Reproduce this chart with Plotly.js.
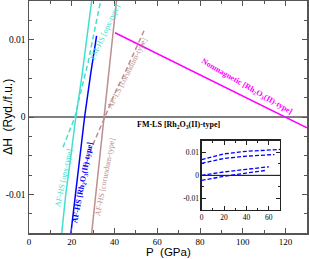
<!DOCTYPE html>
<html><head><meta charset="utf-8">
<script src="https://cdn.plot.ly/plotly-3.0.1.min.js"></script>
<style>html,body{margin:0;padding:0;background:#fff}#chart{width:309px;height:259px}</style>
</head><body><div id="chart"></div>
<script>
// Main panel data (P in GPa, dH in Ryd./f.u.)
var afHsOpxP = [15.3, 17.2, 19.6, 21.9, 24.6, 27.0, 29.3];
var afHsOpxH = [-0.015, -0.010, -0.005, 0.0, 0.005, 0.010, 0.015];
var fmHsOpxP = [15.9, 18.5, 21.5, 23.8, 27.6, 30.5, 33.5];
var fmHsOpxH = [-0.0039, -0.002, 0.0, 0.0028, 0.007, 0.011, 0.015];
var afHsRhP = [19.6, 22.8, 26.0, 28.8, 31.6];
var afHsRhH = [-0.015, -0.0075, 0.0, 0.0055, 0.0105];
var afHsCorP = [29.3, 32.2, 35.1, 38.0, 40.9];
var afHsCorH = [-0.015, -0.0075, 0.0, 0.0075, 0.015];
var afLsCorP = [26.0, 30.0, 35.5, 40.0, 45.0, 54.0];
var afLsCorH = [-0.0065, -0.0035, 0.0, 0.003, 0.0058, 0.0113];
var nmRhP = [40.2, 60, 80, 100, 120, 130];
var nmRhH = [0.0109, 0.0082, 0.0055, 0.0027, 0.0000, -0.0014];
var fmLsRhP = [0, 130];
var fmLsRhH = [0, 0];
// Inset data
var insA_P = [0, 20, 40, 70], insA_H = [0.0068, 0.0093, 0.0104, 0.0112];
var insB_P = [0, 20, 40, 65], insB_H = [0.0052, 0.0073, 0.0083, 0.0090];
var insC_P = [0, 20, 40, 60], insC_H = [0.0000, 0.0015, 0.0026, 0.0037];
var insD_P = [0, 20, 40, 58], insD_H = [-0.0022, -0.0004, 0.0010, 0.0022];
var insZ_P = [0, 70], insZ_H = [0, 0];
// Tick labels
var yTickVals = [-0.01, 0, 0.01];
var yTickText = ['-0.01', '0', '0.01'];
var xTickVals = [0, 20, 40, 60, 80, 100, 120];
var xTickText = ['0', '20', '40', '60', '80', '100', '120'];
var xInsTickVals = [0, 20, 40, 60];
var xInsTickText = ['0', '20', '40', '60'];

var CYAN = '#40e0d0', BLUE = '#0000ff', ROSY = '#bc8f8f', MAG = '#ff00ff';
function ln(x, y, color, dash, w, xa, ya) {
  return {x: x, y: y, type: 'scatter', mode: 'lines', line: {color: color, width: w || 1.5, dash: dash || 'solid'},
          xaxis: xa || 'x', yaxis: ya || 'y', hoverinfo: 'skip', showlegend: false};
}
var traces = [
  ln(fmLsRhP, fmLsRhH, '#000', 'solid', 1),
  ln(afHsOpxP, afHsOpxH, CYAN),
  ln(fmHsOpxP, fmHsOpxH, CYAN, '5px,3px'),
  ln(afHsRhP, afHsRhH, BLUE),
  ln(afHsCorP, afHsCorH, ROSY),
  ln(afLsCorP, afLsCorH, ROSY, '5px,3px'),
  ln(nmRhP, nmRhH, MAG),
  ln(insZ_P, insZ_H, '#000', 'solid', 1, 'x2', 'y2'),
  ln(insA_P, insA_H, BLUE, '4px,2px', 1.3, 'x2', 'y2'),
  ln(insB_P, insB_H, BLUE, '4px,2px', 1.3, 'x2', 'y2'),
  ln(insC_P, insC_H, BLUE, '4px,2px', 1.3, 'x2', 'y2'),
  ln(insD_P, insD_H, BLUE, '4px,2px', 1.3, 'x2', 'y2')
];
var AX = '#555';
var serif = 'Liberation Serif, Times New Roman, serif';
function ann(text, x, y, color, angle, bold, size) {
  return {text: bold ? '<b>' + text + '</b>' : text, x: x, y: y, xref: 'x', yref: 'y', showarrow: false,
          textangle: angle, font: {family: serif, size: size || 8, color: color}, xanchor: 'center', yanchor: 'middle'};
}
var layout = {
  width: 309, height: 259, margin: {l: 29, r: 2, t: 1, b: 26},
  paper_bgcolor: '#fff', plot_bgcolor: '#fff', showlegend: false,
  font: {family: serif, size: 9, color: '#000'},
  xaxis: {range: [0, 130], showline: true, linecolor: AX, linewidth: 1.5, mirror: 'allticks',
          ticks: 'inside', ticklen: 5, tickcolor: AX, tickwidth: 1, tickvals: xTickVals, ticktext: xTickText,
          minor: {ticks: 'inside', ticklen: 3, dtick: 10, tickcolor: AX, showgrid: false},
          showgrid: false, zeroline: false, tickfont: {family: serif, size: 9}, domain: [0, 1]},
  yaxis: {range: [-0.015, 0.015], showline: true, linecolor: AX, linewidth: 1.5, mirror: 'allticks',
          ticks: 'inside', ticklen: 5, tickcolor: AX, tickwidth: 1, tickvals: yTickVals, ticktext: yTickText,
          minor: {ticks: 'inside', ticklen: 3, dtick: 0.0025, tickcolor: AX, showgrid: false},
          showgrid: false, zeroline: false, tickfont: {family: serif, size: 9.5}, domain: [0, 1]},
  xaxis2: {range: [0, 70], domain: [0.621, 0.903], anchor: 'y2', showline: true, linecolor: '#222', linewidth: 1.2,
          mirror: 'allticks', ticks: 'inside', ticklen: 4, tickcolor: '#222', tickvals: xInsTickVals, ticktext: xInsTickText,
          minor: {ticks: 'inside', ticklen: 2, dtick: 10, tickcolor: '#222'},
          showgrid: false, zeroline: false, tickfont: {family: serif, size: 7.5}},
  yaxis2: {range: [-0.015, 0.015], domain: [0.099, 0.398], anchor: 'x2', showline: true, linecolor: '#222', linewidth: 1.2,
          mirror: 'allticks', ticks: 'inside', ticklen: 4, tickcolor: '#222', tickvals: yTickVals, ticktext: yTickText,
          minor: {ticks: 'inside', ticklen: 2, dtick: 0.005, tickcolor: '#222'},
          showgrid: false, zeroline: false, tickfont: {family: serif, size: 7.5}},
  annotations: [
    {text: 'P\u00a0\u00a0(GPa)', xref: 'paper', yref: 'paper', x: 0.5, y: -0.083, yanchor: 'middle', showarrow: false,
     font: {family: 'Liberation Sans, Arial, sans-serif', size: 11.5, color: '#000'}},
    {text: '\u0394H\u00a0\u00a0(Ryd./f.u.)', xref: 'paper', yref: 'paper', x: -0.076, y: 0.5, textangle: -90, showarrow: false,
     xanchor: 'center', yanchor: 'middle', font: {family: 'Liberation Sans, Arial, sans-serif', size: 12, color: '#000'}},
    ann('FM-HS [opx-type]', 35.5, 0.0111, CYAN, -65),
    ann('AF-HS [opx-type]', 16.0, -0.0079, CYAN, -78),
    ann('AF-HS [Rh<sub>2</sub>O<sub>3</sub>(II)-type]', 25.2, -0.0084, BLUE, -79, true),
    ann('AF-HS [corundum-type]', 35.6, -0.0077, ROSY, -79),
    ann('AF-LS [corundum-type]', 46.2, 0.0057, ROSY, -63),
    ann('Nonmagnetic [Rh<sub>2</sub>O<sub>3</sub>(II)-type]', 102.1, 0.0039, MAG, 30, true),
    ann('FM-LS [Rh<sub>2</sub>O<sub>3</sub>(II)-type]', 69.9, -0.00097, '#000', 0, true)
  ]
};
Plotly.newPlot('chart', traces, layout, {staticPlot: true, displayModeBar: false});
</script></body></html>
